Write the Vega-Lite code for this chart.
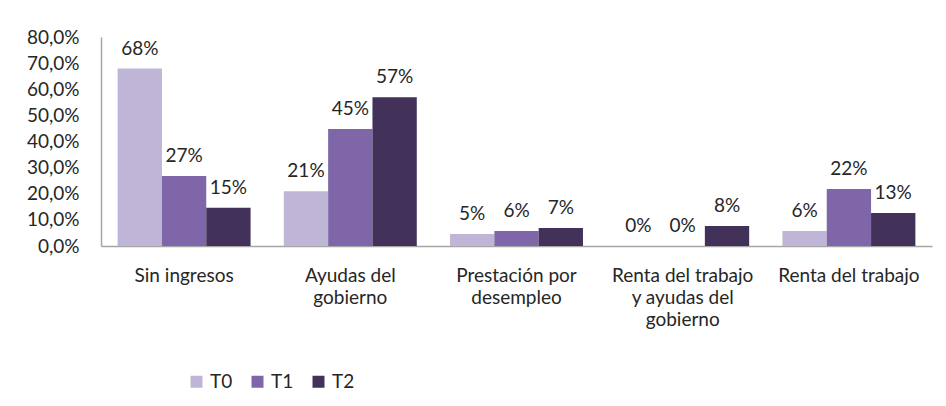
{
  "$schema": "https://vega.github.io/schema/vega-lite/v6.json",
  "autosize": "none",
  "width": 831,
  "height": 209,
  "padding": {"left": 101, "top": 37, "right": 14, "bottom": 160},
  "background": "white",
  "config": {
    "view": {"stroke": null},
    "font": "Lato",
    "locale": {"number": {"decimal": ",", "thousands": ".", "grouping": [3], "currency": ["", " €"]}}
  },
  "data": {
    "values": [
      {"categoria": "Sin ingresos", "periodo": "T0", "valor": 0.679},
      {"categoria": "Sin ingresos", "periodo": "T1", "valor": 0.268},
      {"categoria": "Sin ingresos", "periodo": "T2", "valor": 0.146},
      {"categoria": "Ayudas del gobierno", "periodo": "T0", "valor": 0.21},
      {"categoria": "Ayudas del gobierno", "periodo": "T1", "valor": 0.448},
      {"categoria": "Ayudas del gobierno", "periodo": "T2", "valor": 0.569},
      {"categoria": "Prestación por desempleo", "periodo": "T0", "valor": 0.046},
      {"categoria": "Prestación por desempleo", "periodo": "T1", "valor": 0.057},
      {"categoria": "Prestación por desempleo", "periodo": "T2", "valor": 0.069},
      {"categoria": "Renta del trabajo y ayudas del gobierno", "periodo": "T0", "valor": 0.0},
      {"categoria": "Renta del trabajo y ayudas del gobierno", "periodo": "T1", "valor": 0.0},
      {"categoria": "Renta del trabajo y ayudas del gobierno", "periodo": "T2", "valor": 0.077},
      {"categoria": "Renta del trabajo", "periodo": "T0", "valor": 0.057},
      {"categoria": "Renta del trabajo", "periodo": "T1", "valor": 0.218},
      {"categoria": "Renta del trabajo", "periodo": "T2", "valor": 0.126}
    ]
  },
  "encoding": {
    "x": {
      "field": "categoria",
      "type": "nominal",
      "sort": null,
      "scale": {"paddingInner": 0.2, "paddingOuter": 0.1},
      "axis": {
        "title": null,
        "labelAngle": 0,
        "labelFontSize": 19,
        "labelColor": "#262626",
        "labelPadding": 20,
        "labelLineHeight": 22,
        "labelOverlap": false,
        "labelBound": false,
        "ticks": false,
        "domainColor": "#a6a6a6",
        "domainWidth": 1.5,
        "labelExpr": "datum.label == 'Ayudas del gobierno' ? ['Ayudas del', 'gobierno'] : datum.label == 'Prestación por desempleo' ? ['Prestación por', 'desempleo'] : datum.label == 'Renta del trabajo y ayudas del gobierno' ? ['Renta del trabajo', 'y ayudas del', 'gobierno'] : datum.label"
      }
    },
    "xOffset": {"field": "periodo", "type": "nominal"},
    "y": {
      "field": "valor",
      "type": "quantitative",
      "scale": {"domain": [0, 0.8]},
      "axis": {
        "title": null,
        "format": ".1%",
        "values": [0, 0.1, 0.2, 0.3, 0.4, 0.5, 0.6, 0.7, 0.8],
        "labelOverlap": false,
        "grid": false,
        "ticks": false,
        "labelFontSize": 19,
        "labelColor": "#262626",
        "labelPadding": 22,
        "domainColor": "#a6a6a6",
        "domainWidth": 1.5
      }
    }
  },
  "layer": [
    {
      "mark": {"type": "bar"},
      "encoding": {
        "color": {
          "field": "periodo",
          "type": "nominal",
          "scale": {"domain": ["T0", "T1", "T2"], "range": ["#bfb6d7", "#7e66a9", "#42325a"]},
          "legend": {
            "title": null,
            "orient": "none",
            "direction": "horizontal",
            "legendX": 86,
            "legendY": 335,
            "symbolType": "square",
            "symbolSize": 144,
            "symbolStrokeWidth": 0,
            "labelFontSize": 19,
            "labelColor": "#262626",
            "labelOffset": 4,
            "columnPadding": 15
          }
        }
      }
    },
    {
      "mark": {"type": "text", "baseline": "bottom", "dy": -10, "fontSize": 19, "color": "#262626"},
      "encoding": {
        "text": {"field": "valor", "type": "quantitative", "format": ".0%"}
      }
    }
  ]
}
